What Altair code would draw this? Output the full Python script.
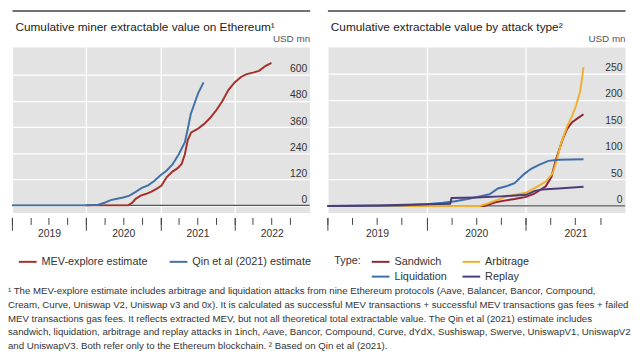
import altair as alt
import pandas as pd

# ---------------- data: left panel ----------------
mev_dates = ["2020/01/01", "2020/07/25", "2020/08/15", "2020/09/01", "2020/09/25", "2020/10/20",
             "2020/11/15", "2020/12/10", "2021/01/05", "2021/02/01", "2021/03/01", "2021/03/25",
             "2021/04/15", "2021/05/01", "2021/05/15", "2021/06/01", "2021/07/01", "2021/08/01",
             "2021/09/01", "2021/10/01", "2021/11/01", "2021/12/01", "2022/01/01", "2022/02/01",
             "2022/03/01", "2022/04/01", "2022/05/01", "2022/06/01", "2022/07/01"]
mev_vals = [0, 0, 12, 30, 45, 52, 62, 75, 90, 130, 155, 170, 190, 235, 300, 335, 350, 372,
            400, 435, 478, 530, 565, 590, 603, 610, 618, 640, 655]

qin_dates = ["2019/01/01", "2019/07/01", "2020/01/01", "2020/03/01", "2020/04/01", "2020/05/01",
             "2020/06/01", "2020/07/01", "2020/08/01", "2020/09/01", "2020/10/01", "2020/11/01",
             "2020/12/01", "2021/01/01", "2021/02/01", "2021/03/01", "2021/04/01", "2021/05/01",
             "2021/05/15", "2021/05/30", "2021/06/20", "2021/07/05", "2021/08/01"]
qin_vals = [0, 0, 1, 3, 12, 24, 30, 36, 45, 62, 80, 92, 112, 138, 160, 188, 235, 290,
            350, 420, 475, 515, 565]

left_series = ["MEV-explore estimate", "Qin et al (2021) estimate"]
left_colors = ["#a3302b", "#4270a8"]

# ---------------- data: right panel ----------------
sand_dates = ["2019/01/01", "2020/08/01", "2020/08/20", "2020/09/10", "2020/10/15", "2020/11/20",
              "2021/01/01", "2021/02/01", "2021/03/15", "2021/04/05", "2021/04/20", "2021/05/15",
              "2021/06/01", "2021/06/20", "2021/07/15", "2021/08/01"]
sand_vals = [0, 0, 3, 7, 10, 13, 17, 23, 37, 55, 85, 124, 145, 158, 167, 173]

arb_dates = ["2019/01/01", "2020/07/15", "2020/08/10", "2020/09/10", "2020/10/25", "2020/12/10",
             "2021/01/01", "2021/02/01", "2021/03/15", "2021/04/10", "2021/04/25", "2021/05/10",
             "2021/06/01", "2021/06/20", "2021/07/05", "2021/07/20", "2021/08/01"]
arb_vals = [0, 0, 4, 10, 18, 23, 25, 33, 46, 62, 87, 118, 149, 170, 190, 217, 262]

liq_dates = ["2019/01/01", "2019/10/01", "2020/01/01", "2020/03/01", "2020/04/15", "2020/06/01",
             "2020/07/15", "2020/08/20", "2020/09/20", "2020/10/20", "2020/11/20", "2020/12/25",
             "2021/01/20", "2021/02/20", "2021/03/25", "2021/05/01", "2021/08/01"]
liq_vals = [0, 1, 3, 6, 9, 13, 18, 22, 33, 37, 43, 60, 70, 78, 85, 87, 88]

rep_dates = ["2019/01/01", "2019/07/01", "2020/01/01", "2020/03/28", "2020/04/02", "2020/07/01",
             "2020/10/01", "2021/01/01", "2021/02/01", "2021/03/01", "2021/05/01", "2021/08/01"]
rep_vals = [0, 1, 3, 4, 15, 16, 18, 21, 28, 31, 33, 36]

right_series = ["Sandwich", "Arbitrage", "Liquidation", "Replay"]
right_colors = ["#8f2632", "#f0b02e", "#3f6fa8", "#4d3b78"]

# ---------------- axes ----------------
left_domain = ["2019/01/01", "2023/01/05"]
left_years = ["2019/01/01", "2020/01/01", "2021/01/01", "2022/01/01"]
left_quarters = ["2019/01/01", "2019/04/01", "2019/07/01", "2019/10/01",
                 "2020/01/01", "2020/04/01", "2020/07/01", "2020/10/01",
                 "2021/01/01", "2021/04/01", "2021/07/01", "2021/10/01",
                 "2022/01/01", "2022/04/01", "2022/07/01", "2022/10/01"]
left_y_domain = [-33, 728]
left_y_ticks = [0, 120, 240, 360, 480, 600]

right_domain = ["2019/01/01", "2022/01/01"]
right_years = ["2019/01/01", "2020/01/01", "2021/01/01"]
right_quarters = ["2019/01/01", "2019/04/01", "2019/07/01", "2019/10/01",
                  "2020/01/01", "2020/04/01", "2020/07/01", "2020/10/01",
                  "2021/01/01", "2021/04/01", "2021/07/01", "2021/10/01"]
right_y_domain = [-12.5, 300]
right_y_ticks = [0, 50, 100, 150, 200, 250]

zero = [0]

left_title = "Cumulative miner extractable value on Ethereum¹"
right_title = "Cumulative extractable value by attack type²"

foot_lines = [
    "¹  The MEV-explore estimate includes arbitrage and liquidation attacks from nine Ethereum protocols (Aave, Balancer, Bancor, Compound,",
    "Cream, Curve, Uniswap V2, Uniswap v3 and 0x). It is calculated as successful MEV transactions + successful MEV transactions gas fees + failed",
    "MEV transactions gas fees. It reflects extracted MEV, but not all theoretical total extractable value. The Qin et al (2021) estimate includes",
    "sandwich, liquidation, arbitrage and replay attacks in 1inch, Aave, Bancor, Compound, Curve, dYdX, Sushiswap, Swerve, UniswapV1, UniswapV2",
    "and UniswapV3. Both refer only to the Ethereum blockchain.    ²  Based on Qin et al (2021).",
]

W, H = 302, 168
FONT = "Liberation Sans"


def dt(s):
    y, m, d = s.split("/")
    return alt.DateTime(year=int(y), month=int(m), date=int(d))


def frame(names, dates_list, vals_list):
    parts = []
    for n, ds, vs in zip(names, dates_list, vals_list):
        parts.append(pd.DataFrame({"date": ds, "value": vs, "series": n}))
    return pd.concat(parts, ignore_index=True)


def panel(df, series, colors, x_domain, years, quarters, y_domain, y_ticks, title, legend):
    n_years = (pd.Timestamp(x_domain[1].replace("/", "-")) - pd.Timestamp(x_domain[0].replace("/", "-"))).days / 365.25
    half_year = W / n_years / 2
    xs = alt.Scale(domain=[dt(x) for x in x_domain], nice=False)
    ys = alt.Scale(domain=y_domain, nice=False, zero=False)
    y_axis = alt.Axis(
        orient="right", values=y_ticks, grid=True, gridColor="white", gridWidth=1.3,
        ticks=False, tickSize=0, domain=False, labelAlign="right", labelPadding=-3,
        labelBaseline="bottom", labelOffset=-1, labelFontSize=10.5, labelColor="#333",
        labelFont=FONT,
        title="USD mn", titleAngle=0, titleX=0, titleY=-4, titleAlign="right",
        titleBaseline="bottom", titleFontSize=10, titleFontWeight="normal",
        titleColor="#555", titleFont=FONT)
    base = alt.Chart(df)

    year_layer = base.mark_line(opacity=0).encode(
        x=alt.X("date:T", scale=xs, axis=alt.Axis(
            orient="bottom", values=[dt(y) for y in years], format="%Y", title=None,
            tickSize=13, tickColor="#444", tickWidth=1, domain=False, offset=5,
            labelOffset=half_year, labelFlush=False, labelOverlap=False, labelPadding=-2,
            labelFontSize=10.5, labelColor="#333", labelFont=FONT,
            grid=True, gridColor="white", gridWidth=1.3)),
        y=alt.Y("value:Q", scale=ys, axis=y_axis),
        detail="series:N",
    )
    top_layer = base.mark_line(opacity=0).encode(
        x=alt.X("date:T", scale=xs, axis=alt.Axis(
            orient="top", offset=37, domain=True, domainColor="#444", domainWidth=1.5,
            ticks=False, labels=False, grid=False,
            title=title, titleX=3, titleY=20, titleAlign="left", titleAnchor="start",
            titleBaseline="alphabetic", titleFontSize=12, titleFontWeight="normal",
            titleColor="#222", titleFont=FONT)),
        y=alt.Y("value:Q", scale=ys, axis=y_axis),
        detail="series:N",
    )
    zero_rule = alt.Chart(pd.DataFrame({"value": zero})).mark_rule(color="#555", strokeWidth=1.2).encode(
        y=alt.Y("value:Q", scale=ys, axis=y_axis)
    )
    lines = base.mark_line(strokeWidth=2).encode(
        x=alt.X("date:T", scale=xs, axis=alt.Axis(
            orient="bottom", values=[dt(q) for q in quarters], labels=False, title=None,
            tickSize=7, tickColor="#444", domain=False, grid=False, offset=5)),
        y=alt.Y("value:Q", scale=ys, axis=y_axis),
        color=alt.Color("series:N", scale=alt.Scale(domain=series, range=colors), legend=legend),
    )
    return alt.layer(year_layer, zero_rule, top_layer, lines).resolve_axis(x="independent").properties(
        width=W, height=H)


left_df = frame(left_series, [mev_dates, qin_dates], [mev_vals, qin_vals])
right_df = frame(right_series, [sand_dates, arb_dates, liq_dates, rep_dates],
                 [sand_vals, arb_vals, liq_vals, rep_vals])

left_legend = alt.Legend(orient="none", legendX=6, legendY=208, direction="horizontal", title=None,
                         symbolType="stroke", symbolStrokeWidth=2, symbolSize=324,
                         labelFontSize=11, labelColor="#333", labelFont=FONT, columnPadding=18)
right_legend = alt.Legend(orient="none", legendX=7, legendY=208, direction="horizontal", columns=2,
                          title="Type:", titleOrient="left", titleAnchor="start",
                          titleBaseline="line-top", titleLineHeight=17,
                          titleFontSize=11, titleFontWeight="normal",
                          titleColor="#333", titleFont=FONT, titlePadding=10,
                          symbolType="stroke", symbolStrokeWidth=2, symbolSize=324,
                          labelFontSize=11, labelColor="#333", labelFont=FONT,
                          columnPadding=11, rowPadding=0)

left = panel(left_df, left_series, left_colors, left_domain, left_years, left_quarters,
             left_y_domain, left_y_ticks, left_title, left_legend)
right = panel(right_df, right_series, right_colors, right_domain, right_years, right_quarters,
              right_y_domain, right_y_ticks, right_title, right_legend)

chart = alt.hconcat(left, right, spacing=12).resolve_scale(color="independent").properties(
    padding=0,
    title=alt.TitleParams(text=foot_lines, orient="bottom", anchor="start", fontSize=9.8,
                          fontWeight="normal", lineHeight=13.9, offset=5, color="#333",
                          font=FONT, dx=0),
).configure(font=FONT).configure_view(fill="#e3e3e3", strokeOpacity=0)

chart.save("out.html", embed_options={"renderer": "svg", "actions": False})
